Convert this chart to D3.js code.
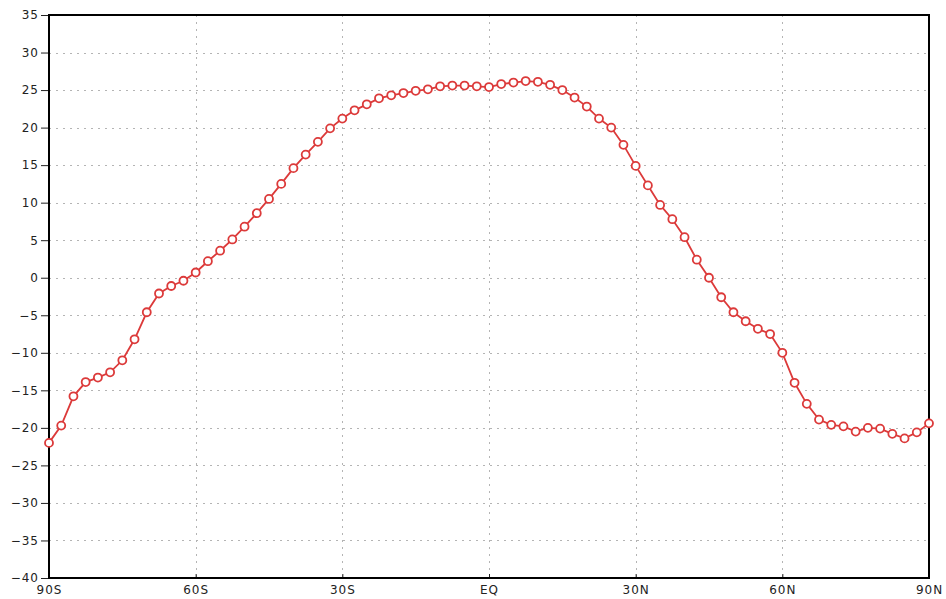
<!DOCTYPE html>
<html>
<head>
<meta charset="utf-8">
<script src="https://cdn.jsdelivr.net/npm/d3@7"></script>
<style>
  body { margin: 0; background: #fff; }
  svg text { font-family: "DejaVu Sans", sans-serif; font-size: 12px; fill: #222; letter-spacing: 1px; }
</style>
</head>
<body>
<svg id="chart" width="946" height="599"></svg>
<script>
// latitude every 2.5 degrees, 90S .. 90N
const lats = d3.range(-90, 90.1, 2.5);
const values = [
  -22.0, -19.7, -15.8, -13.9, -13.3, -12.6, -11.0, -8.2, -4.6, -2.1,
  -1.1, -0.4, 0.7, 2.2, 3.6, 5.1, 6.8, 8.6, 10.5, 12.5,
  14.6, 16.4, 18.1, 19.9, 21.2, 22.3, 23.1, 23.9, 24.3, 24.6,
  24.9, 25.1, 25.5, 25.6, 25.6, 25.5, 25.4, 25.8, 26.0, 26.2,
  26.1, 25.7, 25.0, 24.0, 22.8, 21.2, 20.0, 17.7, 14.9, 12.3,
  9.7, 7.8, 5.4, 2.4, 0.0, -2.6, -4.6, -5.8, -6.8, -7.5,
  -10.0, -14.0, -16.8, -18.9, -19.6, -19.8, -20.5, -20.0, -20.1, -20.8,
  -21.4, -20.6, -19.4
];
const data = lats.map((lat, i) => ({ lat, v: values[i] }));

const xTicks = [-90, -60, -30, 0, 30, 60, 90];
const xTickLabels = ['90S', '60S', '30S', 'EQ', '30N', '60N', '90N'];
const yTicks = d3.range(-40, 36, 5);

const margin = { left: 49, right: 17, top: 15, bottom: 21 };
const width = 946, height = 599;

const svg = d3.select('#chart');

const x = d3.scaleLinear().domain([-90, 90]).range([margin.left, width - margin.right]);
const y = d3.scaleLinear().domain([-40, 35]).range([height - margin.bottom, margin.top]);

// ----- grid
const grid = svg.append('g')
    .attr('stroke', '#b4b4b4')
    .attr('stroke-width', 1)
    .attr('stroke-dasharray', '2,5');

grid.selectAll('line.h')
    .data(yTicks.filter(t => t > -40 && t < 35))
    .join('line')
    .attr('x1', x(-90)).attr('x2', x(90))
    .attr('y1', d => Math.round(y(d)) + 0.5).attr('y2', d => Math.round(y(d)) + 0.5);

grid.selectAll('line.v')
    .data(xTicks.filter(t => t > -90 && t < 90))
    .join('line')
    .attr('y1', y(35)).attr('y2', y(-40))
    .attr('x1', d => Math.round(x(d)) + 0.5).attr('x2', d => Math.round(x(d)) + 0.5);

// ----- axes
const yAxis = svg.append('g')
    .attr('transform', `translate(${x(-90)},0)`)
    .call(d3.axisLeft(y).tickValues(yTicks).tickSize(8).tickPadding(2)
        .tickFormat(d => d < 0 ? '\u2212' + Math.abs(d) : d));
yAxis.select('.domain').remove();
yAxis.selectAll('line').attr('stroke', '#222');

const xAxis = svg.append('g')
    .attr('transform', `translate(0,${y(-40)})`)
    .call(d3.axisBottom(x).tickValues(xTicks).tickSize(4).tickPadding(3)
        .tickFormat((d, i) => xTickLabels[i]));
xAxis.select('.domain').remove();
xAxis.selectAll('line').attr('stroke', '#222').attr('y2', -4);

// ----- frame
svg.append('rect')
    .attr('x', x(-90)).attr('y', y(35))
    .attr('width', x(90) - x(-90)).attr('height', y(-40) - y(35))
    .attr('fill', 'none').attr('stroke', '#000').attr('stroke-width', 2);

// ----- line + markers
const line = d3.line().x(d => x(d.lat)).y(d => y(d.v));

svg.append('path')
    .datum(data)
    .attr('fill', 'none')
    .attr('stroke', '#dc3a3a')
    .attr('stroke-width', 1.8)
    .attr('d', line);

svg.append('g')
    .selectAll('circle')
    .data(data)
    .join('circle')
    .attr('cx', d => x(d.lat))
    .attr('cy', d => y(d.v))
    .attr('r', 4)
    .attr('fill', '#fff')
    .attr('stroke', '#dc3a3a')
    .attr('stroke-width', 1.8);
</script>
</body>
</html>
